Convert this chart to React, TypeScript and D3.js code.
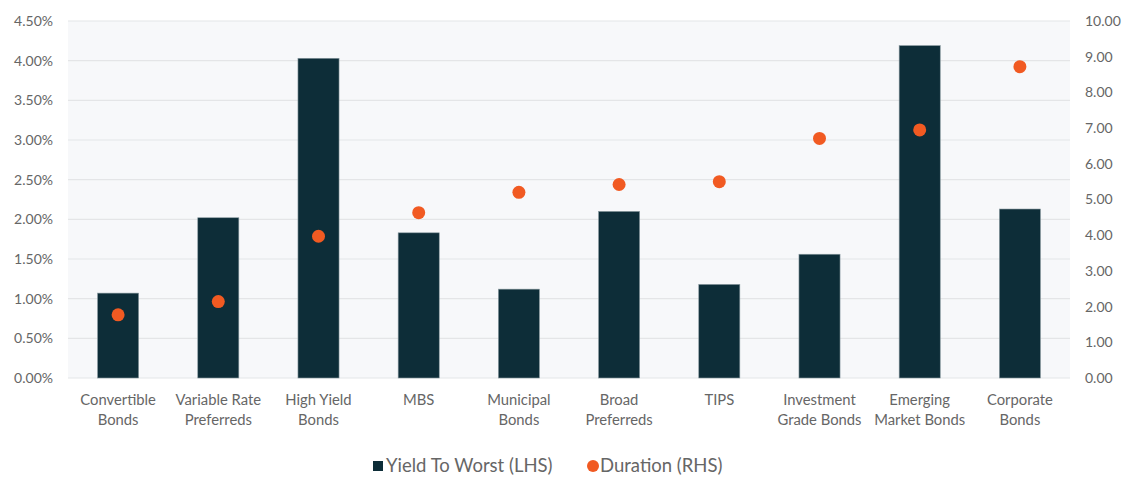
import React from 'react';
import * as d3 from 'd3';

const categories = [
  ['Convertible', 'Bonds'],
  ['Variable Rate', 'Preferreds'],
  ['High Yield', 'Bonds'],
  ['MBS'],
  ['Municipal', 'Bonds'],
  ['Broad', 'Preferreds'],
  ['TIPS'],
  ['Investment', 'Grade Bonds'],
  ['Emerging', 'Market Bonds'],
  ['Corporate', 'Bonds'],
];
const yieldToWorst = [1.07, 2.02, 4.03, 1.83, 1.12, 2.1, 1.18, 1.56, 4.19, 2.13];
const duration = [1.77, 2.14, 3.97, 4.63, 5.2, 5.42, 5.5, 6.71, 6.95, 8.72];
const leftTicks = [0, 0.5, 1, 1.5, 2, 2.5, 3, 3.5, 4, 4.5];
const rightTicks = [0, 1, 2, 3, 4, 5, 6, 7, 8, 9, 10];

const W = 1139;
const H = 477;
const margin = { top: 21, right: 69, bottom: 99, left: 68 };
const font = 'Lato, "Open Sans", sans-serif';
const barColor = '#0d2d38';
const dotColor = '#f15a22';
const textColor = '#666';

const App = () => {
  const innerW = W - margin.left - margin.right;
  const innerH = H - margin.top - margin.bottom;

  const keys = categories.map(c => c.join(' '));
  const x = d3.scaleBand().domain(keys).range([0, innerW]).paddingInner(0.59).paddingOuter(0.295);
  const yL = d3.scaleLinear().domain([0, 4.5]).range([innerH, 0]);
  const yR = d3.scaleLinear().domain([0, 10]).range([innerH, 0]);

  return (
    <svg width={W} height={H} style={{ position: 'absolute', left: 0, top: 0, fontFamily: font }}>
      <g transform={`translate(${margin.left},${margin.top})`}>
        <rect x={0} y={0} width={innerW} height={innerH} fill="#f7f8fa" />
        {leftTicks.map(t => (
          <g key={`l${t}`}>
            <line x1={0} x2={innerW} y1={yL(t)} y2={yL(t)} stroke="#e4e5e7" strokeWidth={1.2} />
            <text x={-15} y={yL(t)} dy="0.35em" textAnchor="end" fontSize={14} fill={textColor}>
              {d3.format('.2f')(t) + '%'}
            </text>
          </g>
        ))}
        {rightTicks.map(t => (
          <text key={`r${t}`} x={innerW + 15} y={yR(t)} dy="0.35em" textAnchor="start" fontSize={14} fill={textColor}>
            {d3.format('.2f')(t)}
          </text>
        ))}
        {yieldToWorst.map((v, i) => (
          <rect
            key={`b${i}`}
            x={x(keys[i])}
            y={yL(v)}
            width={x.bandwidth()}
            height={innerH - yL(v)}
            fill={barColor}
            stroke="#8a9aa0"
            strokeWidth={0.6}
          />
        ))}
        {duration.map((v, i) => (
          <circle key={`d${i}`} cx={(x(keys[i]) || 0) + x.bandwidth() / 2} cy={yR(v)} r={6.5} fill={dotColor} />
        ))}
        {categories.map((lines, i) => (
          <text
            key={`c${i}`}
            x={(x(keys[i]) || 0) + x.bandwidth() / 2}
            y={innerH + 27}
            textAnchor="middle"
            fontSize={14.8}
            fill={textColor}
          >
            {lines.map((ln, j) => (
              <tspan key={j} x={(x(keys[i]) || 0) + x.bandwidth() / 2} dy={j === 0 ? 0 : 20}>
                {ln}
              </tspan>
            ))}
          </text>
        ))}
      </g>
      <g transform="translate(0,466)">
        <rect x={373} y={-5} width={10} height={10} fill={barColor} />
        <text x={386} y={0} dy="0.35em" fontSize={18.5} fill={textColor}>Yield To Worst (LHS)</text>
        <circle cx={593} cy={0} r={6} fill={dotColor} />
        <text x={600} y={0} dy="0.35em" fontSize={18.5} fill={textColor}>Duration (RHS)</text>
      </g>
    </svg>
  );
};

export default App;
